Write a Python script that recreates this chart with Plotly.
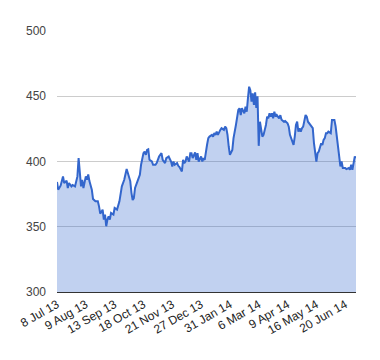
import plotly.graph_objects as go

# trading-day index (0 = 8 Jul 13) and closing value
day_index = [0, 1, 3, 5, 6, 8, 9, 10, 12, 13, 15, 16, 17, 18, 19, 20, 21, 22, 24, 25,
             26, 27, 29, 30, 32, 34, 35, 36, 38, 39, 40, 41, 42, 43, 44, 45, 47, 48, 50, 51,
             52, 54, 55, 56, 58, 59, 61, 62, 63, 64, 65, 67, 69, 70, 72, 73, 74, 75, 76, 77,
             79, 80, 82, 83, 85, 87, 88, 90, 91, 93, 95, 96, 97, 98, 100, 101, 102, 104, 105, 106,
             107, 108, 110, 111, 112, 113, 115, 116, 117, 118, 120, 121, 122, 123, 124, 125, 126, 127, 129, 130,
             131, 132, 133, 134, 136, 137, 139, 140, 141, 142, 143, 144, 146, 147, 149, 150, 151, 152, 153, 154,
             156, 157, 158, 159, 160, 161, 162, 163, 164, 165, 166, 167, 168, 169, 170, 171, 172, 174, 175, 176,
             177, 178, 179, 180, 181, 182, 183, 185, 186, 187, 189, 190, 192, 193, 194, 196, 197, 198, 199, 200,
             201, 202, 203, 204, 205, 207, 208, 209, 210, 212, 213, 214, 216, 217, 218, 220, 221, 222, 223, 224,
             225, 226, 228, 229, 230, 231, 232, 233, 234, 235, 236, 237, 238, 240, 241, 243, 244, 245, 246, 247,
             248, 249]
price = [384.3, 378.4, 381.5, 388.6, 383.5, 385.3, 379.7, 383.5, 380.9, 382.0, 380.9, 385.0, 388.6, 402.6, 388.6, 380.9, 386.0, 379.7, 388.6, 386.0,
         390.0, 385.0, 378.4, 371.3, 369.5, 369.5, 365.6, 360.0, 363.1, 355.5, 359.3, 350.4, 355.5, 358.0, 355.5, 360.6, 359.3, 364.4, 363.1, 367.0,
         369.5, 381.0, 383.5, 386.0, 394.2, 391.0, 385.0, 376.0, 370.5, 372.0, 379.7, 384.7, 389.8, 397.5, 406.4, 407.6, 405.1, 408.9, 409.4, 401.3,
         400.0, 397.5, 397.5, 398.8, 403.8, 406.4, 401.3, 398.8, 402.6, 403.8, 400.0, 396.2, 400.0, 397.5, 398.8, 396.7, 395.7, 392.4, 401.3, 398.8,
         400.0, 403.8, 400.0, 406.4, 406.4, 402.6, 406.9, 401.3, 406.4, 400.0, 403.8, 400.0, 402.6, 401.3, 409.0, 413.0, 417.9, 419.1, 420.4, 419.1,
         421.7, 420.4, 422.9, 420.4, 424.2, 425.5, 424.2, 426.7, 425.5, 420.4, 411.5, 405.1, 408.9, 417.9, 428.0, 434.4, 439.5, 440.8, 435.6, 440.8,
         436.9, 442.0, 438.2, 448.4, 457.3, 454.7, 445.8, 452.2, 443.3, 453.0, 441.0, 450.0, 412.0, 430.5, 425.5, 419.1, 420.4, 428.0, 434.4, 433.1,
         436.9, 434.4, 436.9, 433.1, 438.2, 434.4, 435.6, 433.1, 435.5, 432.0, 430.5, 431.0, 429.3, 426.7, 420.4, 414.0, 412.7, 419.1, 428.0, 430.5,
         422.9, 425.5, 422.9, 425.5, 426.7, 435.6, 434.4, 430.5, 429.3, 426.7, 425.5, 414.0, 400.0, 406.4, 407.6, 414.0, 412.7, 416.6, 417.9, 421.7,
         421.7, 422.9, 421.7, 431.8, 432.1, 431.8, 427.0, 417.9, 408.9, 401.3, 396.2, 400.0, 395.0, 395.0, 394.2, 395.0, 393.7, 397.5, 393.7, 398.8,
         403.8, 402.6]

tick_positions = [0, 24, 48, 72, 96, 120, 144, 168, 192, 216, 240]
tick_labels = ["8 Jul 13", "9 Aug 13", "13 Sep 13", "18 Oct 13", "21 Nov 13", "27 Dec 13",
               "31 Jan 14", "6 Mar 14", "9 Apr 14", "16 May 14", "20 Jun 14"]
y_ticks = [300, 350, 400, 450, 500]

fig = go.Figure()
fig.add_trace(go.Scatter(
    x=day_index, y=price, mode="lines", fill="tozeroy",
    line=dict(color="#3366cc", width=2),
    fillcolor="rgba(51,102,204,0.3)",
    hoverinfo="skip",
))

fig.update_layout(
    width=372, height=352,
    margin=dict(l=49, r=24, t=23, b=68),
    paper_bgcolor="white", plot_bgcolor="white",
    showlegend=False,
    font=dict(family="Liberation Sans, Arial, sans-serif", size=12, color="#222222"),
    xaxis=dict(
        range=[0, 249], tickmode="array", tickvals=tick_positions, ticktext=tick_labels,
        tickangle=-30, showgrid=False, zeroline=False, showline=True, automargin=False,
        linecolor="#333333", linewidth=1, ticks="", tickfont=dict(size=12, color="#222222"),
    ),
    yaxis=dict(
        range=[300, 500], tickmode="array", tickvals=y_ticks, automargin=False,
        showgrid=True, gridcolor="#cccccc", gridwidth=1, zeroline=False,
        showline=False, ticks="", ticklabelstandoff=10,
        tickfont=dict(size=12, color="#444444"),
    ),
)

fig.write_html("out.html")
